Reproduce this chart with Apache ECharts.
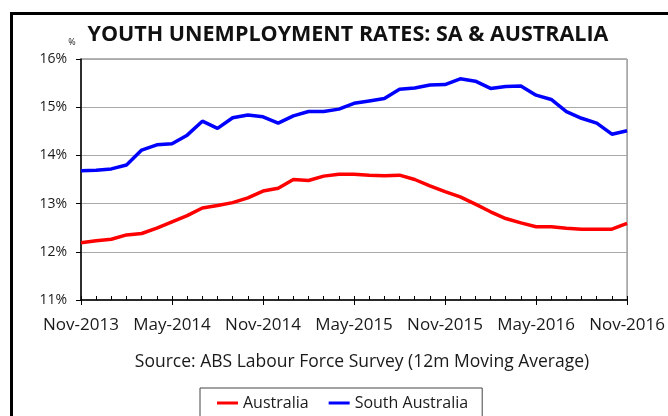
<!DOCTYPE html>
<html>
<head>
<meta charset="utf-8">
<script src="https://cdn.jsdelivr.net/npm/echarts@6/dist/echarts.min.js"></script>
<style>
    html, body { margin: 0; padding: 0; background: #fff; }
    #chart { width: 668px; height: 416px; }
</style>
</head>
<body>
<div id="chart"></div>
<script>
// months, Nov-2013 .. Nov-2016
var months = [
    'Nov-2013', 'Dec-2013', 'Jan-2014', 'Feb-2014', 'Mar-2014', 'Apr-2014',
    'May-2014', 'Jun-2014', 'Jul-2014', 'Aug-2014', 'Sep-2014', 'Oct-2014',
    'Nov-2014', 'Dec-2014', 'Jan-2015', 'Feb-2015', 'Mar-2015', 'Apr-2015',
    'May-2015', 'Jun-2015', 'Jul-2015', 'Aug-2015', 'Sep-2015', 'Oct-2015',
    'Nov-2015', 'Dec-2015', 'Jan-2016', 'Feb-2016', 'Mar-2016', 'Apr-2016',
    'May-2016', 'Jun-2016', 'Jul-2016', 'Aug-2016', 'Sep-2016', 'Oct-2016',
    'Nov-2016'
];

var australia = [
    12.19, 12.23, 12.26, 12.35, 12.38, 12.49, 12.62, 12.75, 12.91, 12.96,
    13.02, 13.12, 13.26, 13.32, 13.50, 13.48, 13.57, 13.61, 13.61, 13.59,
    13.58, 13.59, 13.50, 13.37, 13.25, 13.14, 12.99, 12.83, 12.69, 12.60,
    12.52, 12.52, 12.49, 12.47, 12.47, 12.47, 12.59
];

var southAustralia = [
    13.68, 13.69, 13.72, 13.80, 14.11, 14.22, 14.24, 14.42, 14.71, 14.56,
    14.78, 14.84, 14.80, 14.67, 14.82, 14.91, 14.91, 14.96, 15.08, 15.13,
    15.18, 15.37, 15.40, 15.46, 15.47, 15.59, 15.54, 15.39, 15.43, 15.44,
    15.25, 15.16, 14.91, 14.77, 14.67, 14.44, 14.51
];

var font = 'Open Sans';
var textColor = '#1a1a1a';

var myChart = echarts.init(document.getElementById('chart'));
var option = {
    animation: false,
    backgroundColor: '#fff',
    textStyle: { fontFamily: font },
    title: {
        text: 'YOUTH UNEMPLOYMENT RATES: SA & AUSTRALIA',
        left: 343,
        textAlign: 'center',
        top: 19,
        textStyle: { fontFamily: font, fontSize: 21.5, fontWeight: 'bold', color: '#111' }
    },
    grid: {
        left: 81,
        right: 35,
        top: 59,
        bottom: 116,
        show: true,
        borderColor: '#666',
        borderWidth: 1
    },
    legend: {
        data: ['Australia', 'South Australia'],
        left: 200,
        top: 388,
        orient: 'horizontal',
        icon: 'rect',
        padding: [7, 14, 12, 17],
        itemGap: 20,
        itemWidth: 21,
        itemHeight: 3,
        borderColor: '#444',
        borderWidth: 1,
        textStyle: { fontFamily: font, fontSize: 16, color: textColor }
    },
    xAxis: [
        {
            type: 'category',
            data: months,
            boundaryGap: false,
            axisLine: { lineStyle: { color: '#000', width: 1.5 } },
            axisTick: { interval: 0, inside: true, length: 4, lineStyle: { color: '#000' } },
            axisLabel: {
                interval: 5,
                margin: 17,
                fontFamily: font,
                fontSize: 17,
                color: textColor
            },
            splitLine: { show: false }
        },
        {
            // longer ticks every six months
            type: 'category',
            data: months,
            boundaryGap: false,
            position: 'bottom',
            axisLine: { show: false },
            axisTick: { interval: 5, length: 5, lineStyle: { color: '#000' } },
            axisLabel: { show: false },
            splitLine: { show: false }
        }
    ],
    yAxis: {
        type: 'value',
        min: 11,
        max: 16,
        interval: 1,
        axisLine: { show: true, lineStyle: { color: '#000', width: 1.5 } },
        axisTick: { show: true, length: 5, lineStyle: { color: '#000' } },
        axisLabel: {
            formatter: '{value}%',
            margin: 14,
            fontFamily: font,
            fontSize: 14,
            color: textColor
        },
        splitLine: { show: true, lineStyle: { color: '#aaa', width: 1 } }
    },
    graphic: [
        {
            type: 'polyline',
            shape: { points: [[11.5, 420], [11.5, 13.5], [670, 13.5]] },
            style: { stroke: '#000', lineWidth: 3, fill: null }
        },
        {
            type: 'text',
            x: 72,
            y: 42,
            style: {
                text: '%', font: '9px "Open Sans"', fill: textColor,
                textAlign: 'center', textVerticalAlign: 'middle'
            }
        },
        {
            type: 'text',
            x: 362,
            y: 362,
            style: {
                text: 'Source: ABS Labour Force Survey (12m Moving Average)',
                font: '17.5px "Open Sans"',
                fill: textColor,
                textAlign: 'center',
                textVerticalAlign: 'middle'
            }
        }
    ],
    series: [
        {
            name: 'Australia',
            type: 'line',
            data: australia,
            symbol: 'none',
            color: '#ff0000',
            lineStyle: { color: '#ff0000', width: 3.5 }
        },
        {
            name: 'South Australia',
            type: 'line',
            data: southAustralia,
            symbol: 'none',
            color: '#0000ff',
            lineStyle: { color: '#0000ff', width: 3.5 }
        }
    ]
};
option && myChart.setOption(option);
</script>
</body>
</html>
